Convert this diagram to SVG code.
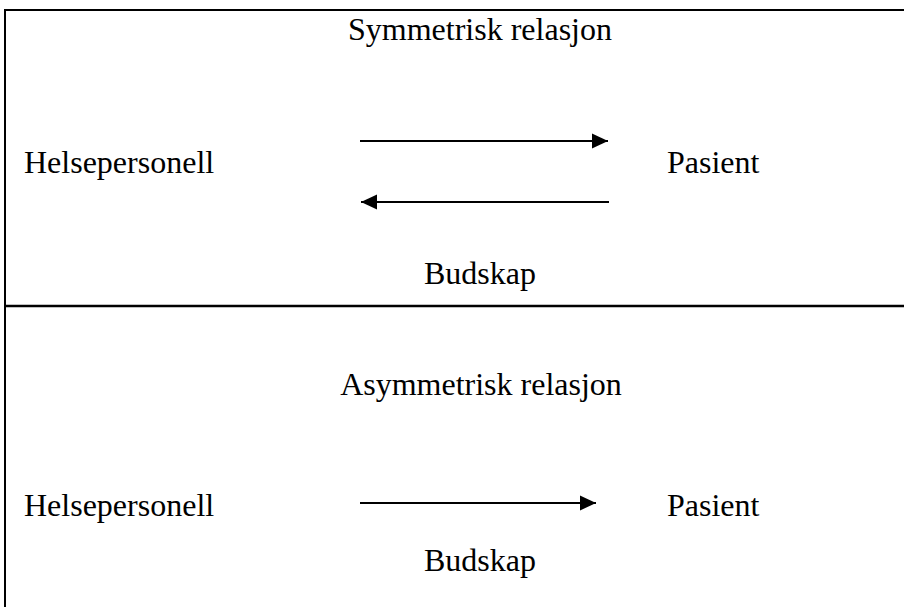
<svg xmlns="http://www.w3.org/2000/svg" width="904" height="607" viewBox="0 0 904 607">
  <style>
    .lbl { font-family: "Liberation Serif", "Times New Roman", serif; font-size: 32px; fill: #000; }
    .mid { text-anchor: middle; }
    .frame { stroke: #000; fill: none; }
    .conn { stroke: #000; stroke-width: 2; fill: none; }
  </style>
  <defs>
    <marker id="head" viewBox="0 0 16 16" refX="16" refY="8" markerWidth="16" markerHeight="16" markerUnits="userSpaceOnUse" orient="auto">
      <path d="M0,0.5 L16,8 L0,15.5 Z" fill="#000"/>
    </marker>
  </defs>
  <rect width="904" height="607" fill="#fff"/>

  <!-- table frame -->
  <g id="frame">
    <line class="frame" x1="5" y1="10" x2="904" y2="10" stroke-width="2"/>
    <line class="frame" x1="5" y1="9" x2="5" y2="607" stroke-width="2"/>
    <line class="frame" x1="5" y1="306" x2="904" y2="306" stroke-width="2.5"/>
  </g>

  <!-- upper cell: symmetric relation -->
  <g id="title-sym"><text class="lbl mid" x="480" y="40">Symmetrisk relasjon</text></g>
  <g id="helse-sym"><text class="lbl" x="24" y="173">Helsepersonell</text></g>
  <g id="pasient-sym"><text class="lbl" x="667" y="173">Pasient</text></g>
  <g id="budskap-sym"><text class="lbl mid" x="480" y="284">Budskap</text></g>

  <!-- lower cell: asymmetric relation -->
  <g id="title-asym"><text class="lbl mid" x="481" y="395">Asymmetrisk relasjon</text></g>
  <g id="helse-asym"><text class="lbl" x="24" y="516">Helsepersonell</text></g>
  <g id="pasient-asym"><text class="lbl" x="667" y="516">Pasient</text></g>
  <g id="budskap-asym"><text class="lbl mid" x="480" y="571">Budskap</text></g>

  <g id="connectors">
    <line class="conn" x1="360" y1="141" x2="608" y2="141" marker-end="url(#head)"/>
    <line class="conn" x1="609" y1="202" x2="361" y2="202" marker-end="url(#head)"/>
    <line class="conn" x1="360" y1="503" x2="596" y2="503" marker-end="url(#head)"/>
  </g>
</svg>
